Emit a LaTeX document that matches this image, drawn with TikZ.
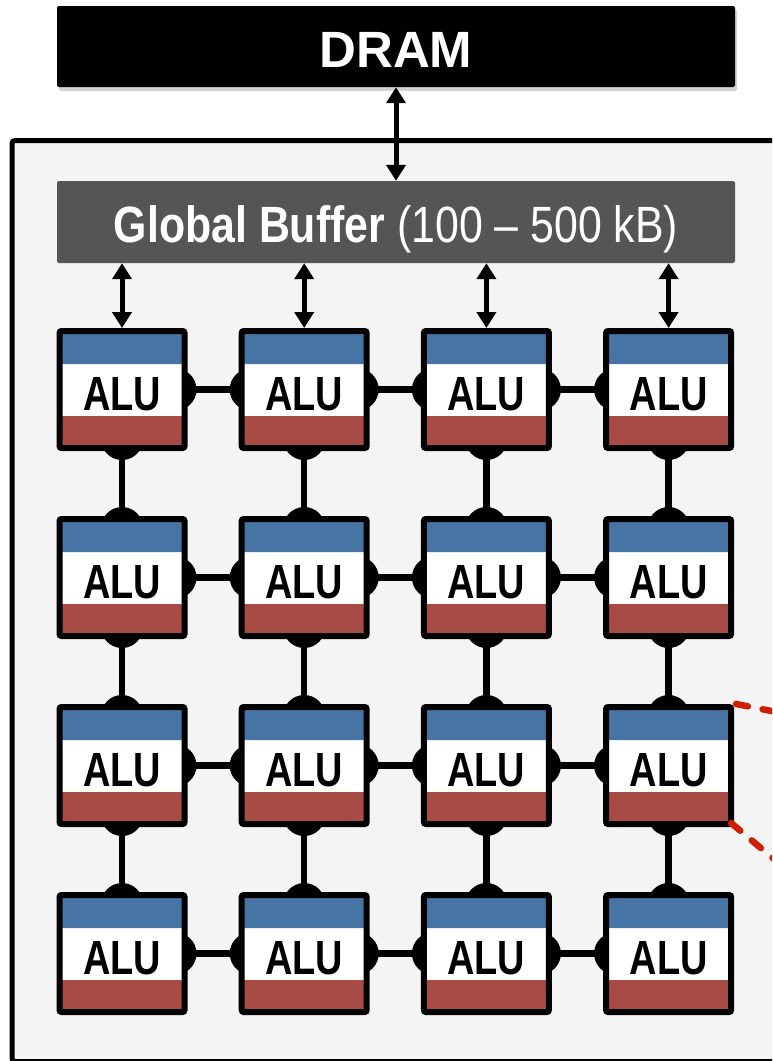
\documentclass[tikz,border=0pt]{standalone}
\usepackage{fontspec}
\setmainfont{Liberation Sans}
\newfontfamily\gbfont[FakeStretch=0.84]{Liberation Sans}
\newfontfamily\alufont[FakeStretch=0.79]{Liberation Sans}
\usetikzlibrary{arrows.meta,shadows}
\definecolor{alublue}{RGB}{70,116,165}
\definecolor{alured}{RGB}{168,75,69}
\definecolor{panel}{RGB}{244,244,244}
\definecolor{gbgray}{RGB}{85,85,85}
\definecolor{dashred}{RGB}{210,30,0}
\pgfdeclarelayer{bgA}
\pgfdeclarelayer{bgB}
\pgfsetlayers{bgA,bgB,main}
\begin{document}
\begin{tikzpicture}[x=1pt,y=-1pt,
  alu/.style={rectangle, draw=black, line width=6pt, rounded corners=2pt,
    minimum width=125pt, minimum height=117pt, inner sep=0pt, fill=white,
    text height=41pt, text depth=0pt,
    font=\alufont\bfseries\fontsize{48}{48}\selectfont,
    path picture={
      \fill[alublue] (path picture bounding box.north west) rectangle ([yshift=-33pt]path picture bounding box.north east);
      \fill[alured] ([yshift=32pt]path picture bounding box.south west) rectangle (path picture bounding box.south east);}},
  conn/.style={draw=black, line width=6.5pt},
  bump/.style={fill=black},
  arr/.style={{Triangle[width=19pt,length=16pt]}-{Triangle[width=19pt,length=16pt]}, line width=5pt, draw=black},
  wide/.style={minimum width=678pt, rounded corners=2pt, text=white, text height=41pt, text depth=0pt, inner sep=0pt},
  reddash/.style={draw=dashred, line width=6.5pt, dash pattern=on 12pt off 15pt, line cap=round}
]
\useasboundingbox (0,0) rectangle (772,1061);
\clip (0,0) rectangle (772,1061);

\begin{pgfonlayer}{bgA}
  \clip (0,0) rectangle (772,1061);
  \fill[white] (0,0) rectangle (772,1061);
  \draw[line width=5pt, fill=panel, rounded corners=3pt] (12,140.5) rectangle (900,1061.5);
\end{pgfonlayer}

\node[wide, fill=black, minimum height=81pt,
      drop shadow={shadow xshift=2pt, shadow yshift=-4pt, opacity=0.35},
      font=\bfseries\fontsize{51}{51}\selectfont] (dram) at (396,46.5) {DRAM};
\node[wide, fill=gbgray, minimum height=82pt,
      font=\gbfont\fontsize{51}{51}\selectfont] (gb) at (396,222)
      {\bfseries Global Buffer\mdseries{} (100 – 500 kB)};

\foreach \i in {1,...,4}{
  \foreach \j in {1,...,4}{
    \node[alu] (a\i\j) at ({122+182.2*(\j-1)},{389.5+188*(\i-1)}) {ALU};
  }
}

\draw[arr] (dram.south) -- (gb.north);
\foreach \j in {1,...,4}{
  \draw[arr] (gb.south -| a1\j.north) -- (a1\j.north);
}

\begin{pgfonlayer}{bgB}
  \foreach \i in {1,...,4}{
    \foreach \j/\k in {1/2,2/3,3/4}{
      \draw[conn] (a\i\j.east) -- (a\i\k.west);
      \fill[bump] ([xshift=-12pt]a\i\j.east) circle (21pt);
      \fill[bump] ([xshift=12pt]a\i\k.west) circle (21pt);
    }
  }
  \foreach \j in {1,...,4}{
    \foreach \i/\k in {1/2,2/3,3/4}{
      \draw[conn] (a\i\j.south) -- (a\k\j.north);
      \fill[bump] ([yshift=12pt]a\i\j.south) circle (21pt);
      \fill[bump] ([yshift=-12pt]a\k\j.north) circle (21pt);
    }
  }
\end{pgfonlayer}

\coordinate (r1) at (812,719);
\coordinate (r2) at (800,881);
\draw[reddash] ([xshift=2pt]a34.north east) -- (r1);
\draw[reddash] ([xshift=-3pt,yshift=4pt]a34.south east) -- (r2);
\end{tikzpicture}
\end{document}
